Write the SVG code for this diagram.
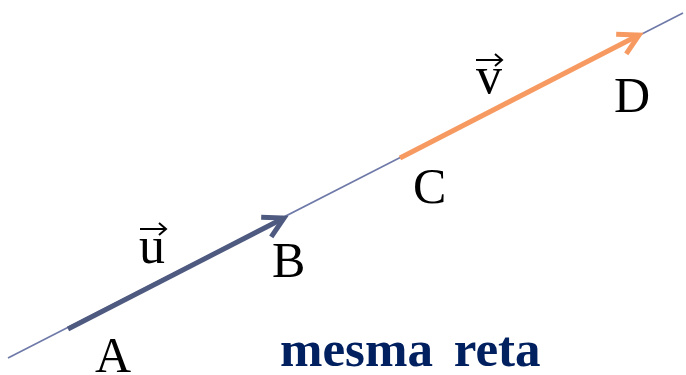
<svg xmlns="http://www.w3.org/2000/svg" width="686" height="375" viewBox="0 0 686 375">
<style>
.lbl{font-family:"Liberation Serif","DejaVu Serif",serif;font-size:50px;fill:#000}
.sym{font-family:"Liberation Serif","DejaVu Serif",serif;font-size:52px;fill:#000}
.title{font-family:"Liberation Serif","DejaVu Serif",serif;font-size:51px;font-weight:bold;fill:#002060;word-spacing:8px}
.vec{fill:none;stroke-width:5;stroke-linecap:butt}
</style>
<defs>
<marker id="ahBlue" markerUnits="userSpaceOnUse" markerWidth="40" markerHeight="40" viewBox="-30 -20 40 40" refX="0" refY="0" orient="auto" overflow="visible">
<path d="M-20,-11 L0,0 L-20,11" fill="none" stroke="#4F5A80" stroke-width="5" stroke-linejoin="miter"/>
</marker>
<marker id="ahOrange" markerUnits="userSpaceOnUse" markerWidth="40" markerHeight="40" viewBox="-30 -20 40 40" refX="0" refY="0" orient="auto" overflow="visible">
<path d="M-20,-11 L0,0 L-20,11" fill="none" stroke="#F79A61" stroke-width="5" stroke-linejoin="miter"/>
</marker>
<marker id="ahSmall" markerUnits="userSpaceOnUse" markerWidth="20" markerHeight="20" viewBox="-10 -10 20 20" refX="0" refY="0" orient="auto" overflow="visible">
<path d="M-7,-6 L0,0 L-7,6" fill="none" stroke="#000" stroke-width="2"/>
</marker>
</defs>
<g id="connectors">
<line id="reta" x1="8" y1="358" x2="683" y2="13" stroke="#6E79A8" stroke-width="1.6"/>
<line id="vec-u" class="vec" x1="68" y1="329" x2="284" y2="218" stroke="#4F5A80" marker-end="url(#ahBlue)"/>
<line id="vec-v" class="vec" x1="400" y1="158" x2="639" y2="35" stroke="#F79A61" marker-end="url(#ahOrange)"/>
</g>
<g id="node-A"><text class="lbl" x="95" y="372">A</text></g>
<g id="node-B"><text class="lbl" x="272" y="277">B</text></g>
<g id="node-C"><text class="lbl" x="413" y="203">C</text></g>
<g id="node-D"><text class="lbl" x="614" y="112">D</text></g>
<g id="label-u">
<text class="sym" x="139" y="263">u</text>
<line x1="140" y1="229" x2="166" y2="229" stroke="#000" stroke-width="2" marker-end="url(#ahSmall)"/>
</g>
<g id="label-v">
<text class="sym" x="476" y="93">v</text>
<line x1="476" y1="60" x2="502" y2="60" stroke="#000" stroke-width="2" marker-end="url(#ahSmall)"/>
</g>
<g id="title"><text class="title" x="280" y="366">mesma reta</text></g>
</svg>
